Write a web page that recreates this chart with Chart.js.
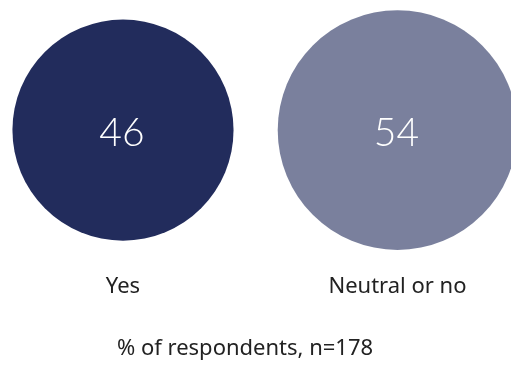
<!DOCTYPE html>
<html>
<head>
<meta charset="utf-8">
<script src="https://cdn.jsdelivr.net/npm/chart.js@4"></script>
<style>
  body { margin: 0; background: #fff; }
</style>
</head>
<body>
<canvas id="myChart" width="511" height="365"></canvas>
<script>
const categories = ['Yes', 'Neutral or no'];
const values = [46, 54];
const colors = ['#222c5c', '#7a809d'];
const axisTitle = '% of respondents, n=178';

// numbers in the middle of each bubble
const valueLabels = {
  id: 'valueLabels',
  afterDatasetsDraw(chart) {
    const ctx = chart.ctx;
    const meta = chart.getDatasetMeta(0);
    ctx.save();
    ctx.font = '300 39px Lato';
    ctx.fillStyle = '#fff';
    ctx.textAlign = 'center';
    ctx.textBaseline = 'middle';
    meta.data.forEach((pt, i) => ctx.fillText(values[i], pt.x - 1, pt.y + 3));
    ctx.restore();
  }
};

Chart.defaults.font.family = '"Noto Sans"';
Chart.defaults.color = '#222';

const data = {
  datasets: [{
    data: values.map((v, i) => ({ x: i, y: 0 })),
    backgroundColor: colors,
    borderWidth: 0,
    radius: ctx => 16.3 * Math.sqrt(values[ctx.dataIndex]),
    clip: false
  }]
};

const config = {
  type: 'bubble',
  data: data,
  options: {
    responsive: false,
    animation: false,
    layout: { autoPadding: false, padding: { top: 0, right: 21, bottom: 0, left: 0 } },
    plugins: { legend: { display: false }, tooltip: { enabled: false } },
    scales: {
      x: {
        type: 'linear',
        min: -0.448,
        max: 1.337,
        afterBuildTicks: axis => { axis.ticks = categories.map((c, i) => ({ value: i })); },
        ticks: {
          callback: (v, i) => categories[i],
          font: { size: 22 },
          padding: 5,
          maxRotation: 0,
          autoSkip: false
        },
        grid: { display: false },
        border: { display: false },
        title: {
          display: true,
          text: axisTitle,
          font: { size: 22 },
          padding: { top: 31, bottom: 3 }
        }
      },
      y: { display: false, min: -1, max: 1 }
    }
  },
  plugins: [valueLabels]
};

const myChart = new Chart(document.getElementById('myChart'), config);
</script>
</body>
</html>
